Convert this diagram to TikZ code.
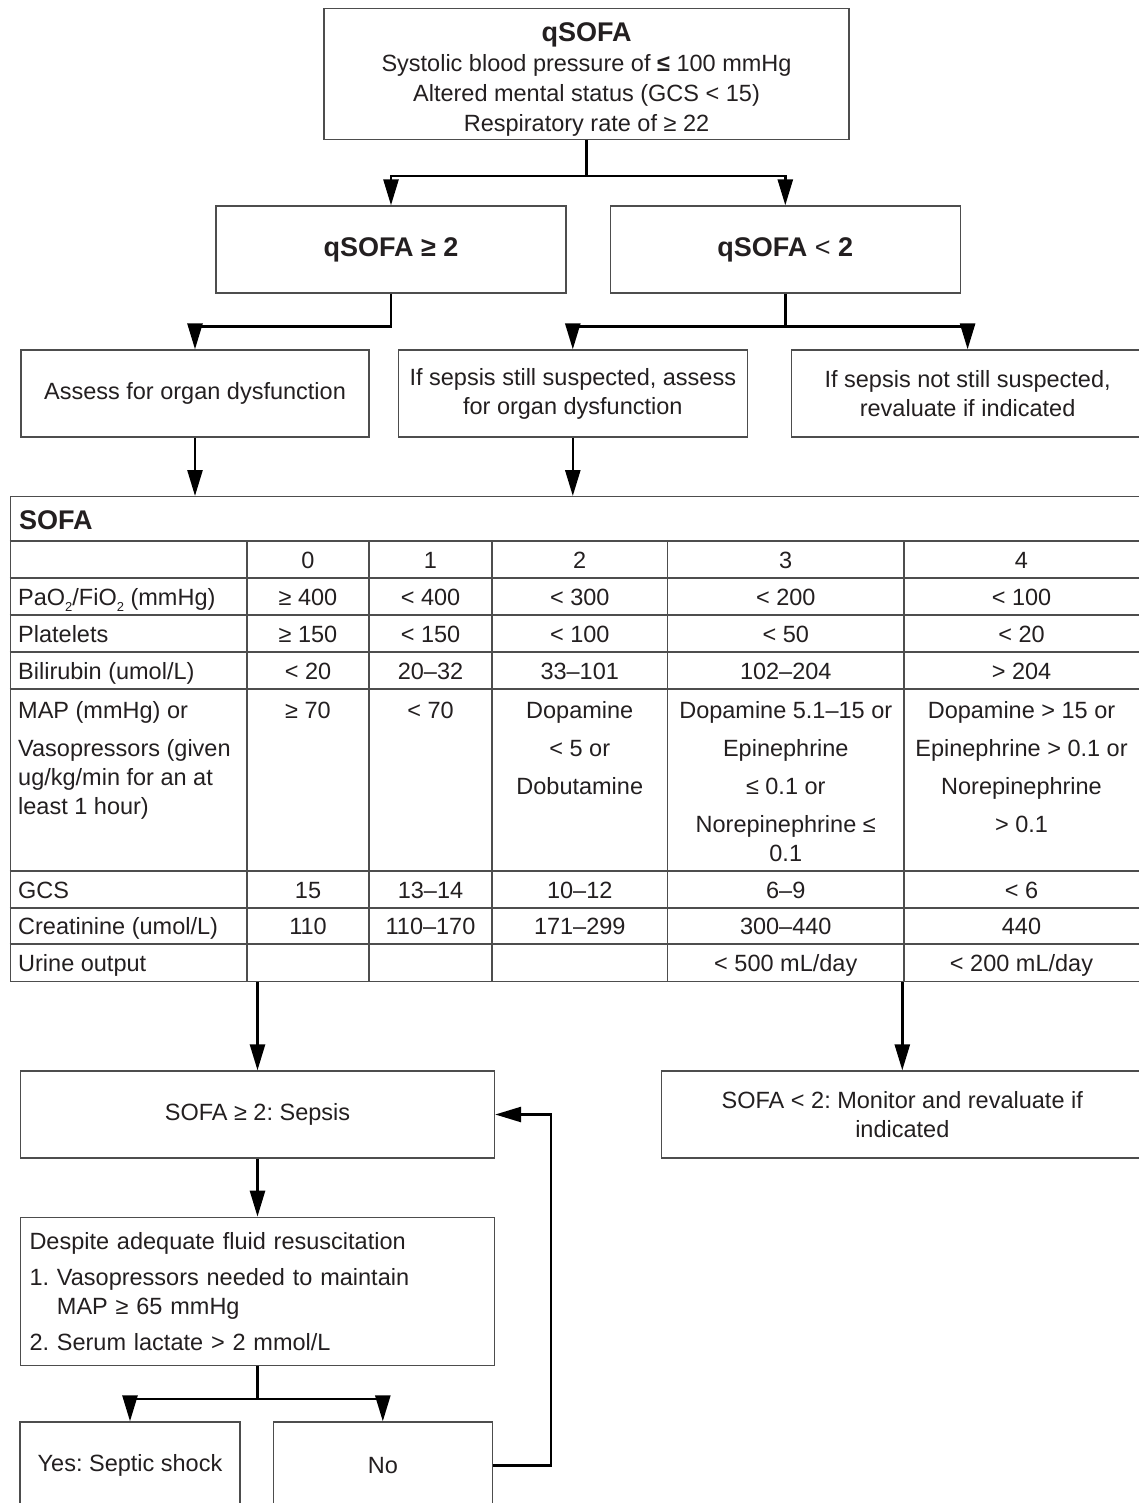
\documentclass[tikz,border=0pt]{standalone}
\usepackage{fontspec}
\setmainfont{Liberation Sans}
\usetikzlibrary{positioning, arrows.meta, calc}
\definecolor{ink}{HTML}{231F20}
\definecolor{rulegray}{HTML}{4D4D4D}
\newcommand{\lowtwo}{\raisebox{-6pt}{\fontsize{13}{13}\selectfont 2}}
\tikzset{
  flowbox/.style={rectangle, draw=rulegray, line width=1.3pt, minimum height=87pt, inner xsep=9pt, align=center, text=ink},
  titlebox/.style={flowbox, font=\fontsize{27}{30}\selectfont\bfseries},
  cell/.style={anchor=base, inner sep=0pt, text=ink},
  mcell/.style={anchor=north, inner sep=0pt, align=center, text=ink},
  tablerule/.style={draw=rulegray, line width=1.3pt},
  link/.style={line width=2.6pt, draw=black},
  arrow/.style={link, -{Triangle[length=26pt, width=15pt]}}
}
\begin{document}
\frenchspacing
\begin{tikzpicture}[x=1pt, y=-1pt, every node/.style={font=\fontsize{23.5}{29}\selectfont}]
        \useasboundingbox (0,0) rectangle (1139,1503);

        \node (qsofa) [flowbox, minimum width=525pt, minimum height=130pt, font=\fontsize{23.5}{30}\selectfont] at (586.5,74) {\rule{0pt}{29pt}{\bfseries\fontsize{27}{30}\selectfont qSOFA}\\Systolic blood pressure of {\bfseries ≤} 100 mmHg\\Altered mental status (GCS < 15)\\Respiratory rate of ≥ 22};

        \node (high) [titlebox, minimum width=350pt] at (391,249.5) {qSOFA ≥ 2};
        \node (low) [titlebox, minimum width=350pt, right=43pt of high] {qSOFA {\mdseries <} 2};

        \node (assess) [flowbox, minimum width=348pt] at (195,393.5) {Assess for organ dysfunction};
        \node (still) [flowbox, minimum width=349pt, right=28pt of assess] {If sepsis still suspected, assess\\for organ dysfunction};
        \node (notstill) [flowbox, minimum width=352pt, right=43pt of still] {If sepsis not still suspected,\\revaluate if indicated};

        % SOFA table
        \node (sofa) [draw=rulegray, line width=1.3pt, anchor=north west, inner sep=0pt, minimum width=1131.5pt, minimum height=485pt] at (9.5,496) {};
        \node (sofatitle) [anchor=west, inner sep=0pt, text=ink, font=\fontsize{27}{30}\selectfont\bfseries] at (19,520) {SOFA};
        \foreach \y in {541,578,615,652,689,871,908,944}
          \draw[tablerule] (9.5,\y) -- (1141,\y);
        \foreach \x in {247,369,492,667.5,904}
          \draw[tablerule] (\x,541) -- (\x,981);

        \foreach \x/\t [count=\i] in {308/0, 430.5/1, 579.75/2, 785.75/3, 1021.5/4}
          \node (head\i) [cell] at (\x,568) {\t};

        \node (pao) [cell, anchor=base west] at (18,605) {PaO\lowtwo/FiO\lowtwo{} (mmHg)};
        \foreach \x/\t [count=\i] in {308/≥ 400, 430.5/< 400, 579.75/< 300, 785.75/< 200, 1021.5/< 100}
          \node (pao\i) [cell] at (\x,605) {\t};

        \node (plt) [cell, anchor=base west] at (18,642) {Platelets};
        \foreach \x/\t [count=\i] in {308/≥ 150, 430.5/< 150, 579.75/< 100, 785.75/< 50, 1021.5/< 20}
          \node (plt\i) [cell] at (\x,642) {\t};

        \node (bili) [cell, anchor=base west] at (18,679) {Bilirubin (umol/L)};
        \foreach \x/\t [count=\i] in {308/< 20, 430.5/20–32, 579.75/33–101, 785.75/102–204, 1021.5/> 204}
          \node (bili\i) [cell] at (\x,679) {\t};

        % MAP / vasopressors row
        \node (map) [mcell, anchor=north west, align=left] at (18,698) {\strut MAP (mmHg) or\\[9pt]Vasopressors (given\\ug/kg/min for an at\\least 1 hour)};
        \node (map1) [cell] at (308,718.5) {≥ 70};
        \node (map2) [cell] at (430.5,718.5) {< 70};
        \node (map3) [mcell] at (579.75,698) {\strut Dopamine\\[9pt]< 5 or\\[9pt]Dobutamine};
        \node (map4) [mcell] at (785.75,698) {\strut Dopamine 5.1–15 or\\[9pt]Epinephrine\\[9pt]≤ 0.1 or\\[9pt]Norepinephrine ≤\\0.1};
        \node (map5) [mcell] at (1021.5,698) {\strut Dopamine > 15 or\\[9pt]Epinephrine > 0.1 or\\[9pt]Norepinephrine\\[9pt]> 0.1};

        \node (gcs) [cell, anchor=base west] at (18,898) {GCS};
        \foreach \x/\t [count=\i] in {308/15, 430.5/13–14, 579.75/10–12, 785.75/6–9, 1021.5/< 6}
          \node (gcs\i) [cell] at (\x,898) {\t};

        \node (creat) [cell, anchor=base west] at (18,934.5) {Creatinine (umol/L)};
        \foreach \x/\t [count=\i] in {308/110, 430.5/110–170, 579.75/171–299, 785.75/300–440, 1021.5/440}
          \node (creat\i) [cell] at (\x,934.5) {\t};

        \node (urine) [cell, anchor=base west] at (18,971) {Urine output};
        \node (urine4) [cell] at (785.75,971) {< 500 mL/day};
        \node (urine5) [cell] at (1021.5,971) {< 200 mL/day};

        % outcome boxes
        \node (sepsis) [flowbox, minimum width=474pt] at (257.5,1114.5) {SOFA ≥ 2: Sepsis};
        \node (monitor) [flowbox, minimum width=481pt, right=166pt of sepsis] {SOFA < 2: Monitor and revaluate if\\indicated};
        \node (despite) [flowbox, minimum height=148pt, text width=456pt, align=left, below=58pt of sepsis] {Despite adequate fluid resuscitation\\[7pt]1.\ Vasopressors needed to maintain\\\hphantom{1.\ }MAP ≥ 65 mmHg\\[7pt]2.\ Serum lactate > 2 mmol/L};
        \node (shock) [flowbox, minimum width=220pt] at (130,1465.5) {Yes: Septic shock};
        \node (noshock) [flowbox, minimum width=219pt, right=32pt of shock] {No};

        % connectors
        \coordinate (split1) at ($(qsofa.south)+(0,36)$);
        \draw [link] (qsofa.south) -- (split1);
        \draw [arrow] (split1) -| (high.north);
        \draw [arrow] (split1) -| (low.north);

        \coordinate (split2) at ($(high.south)+(0,33)$);
        \draw [arrow] (high.south) -- (split2) -| (assess.north);
        \coordinate (split3) at ($(low.south)+(0,33)$);
        \draw [link] (low.south) -- (split3);
        \draw [arrow] (split3) -| (still.north);
        \draw [arrow] (split3) -| (notstill.north);

        \draw [arrow] (assess.south) -- (assess.south |- sofa.north);
        \draw [arrow] (still.south) -- (still.south |- sofa.north);

        \draw [arrow] (sepsis.north |- sofa.south) -- (sepsis.north);
        \draw [arrow] (monitor.north |- sofa.south) -- (monitor.north);
        \draw [arrow] (sepsis) -- (despite);

        \coordinate (split4) at ($(despite.south)+(0,33)$);
        \draw [link] (despite.south) -- (split4);
        \draw [arrow] (split4) -| (shock.north);
        \draw [arrow] (split4) -| (noshock.north);

        % "No" goes back up to sepsis
        \draw [arrow] (noshock.east) -- ++(58,0) |- (sepsis.east);

    \end{tikzpicture}
\end{document}
